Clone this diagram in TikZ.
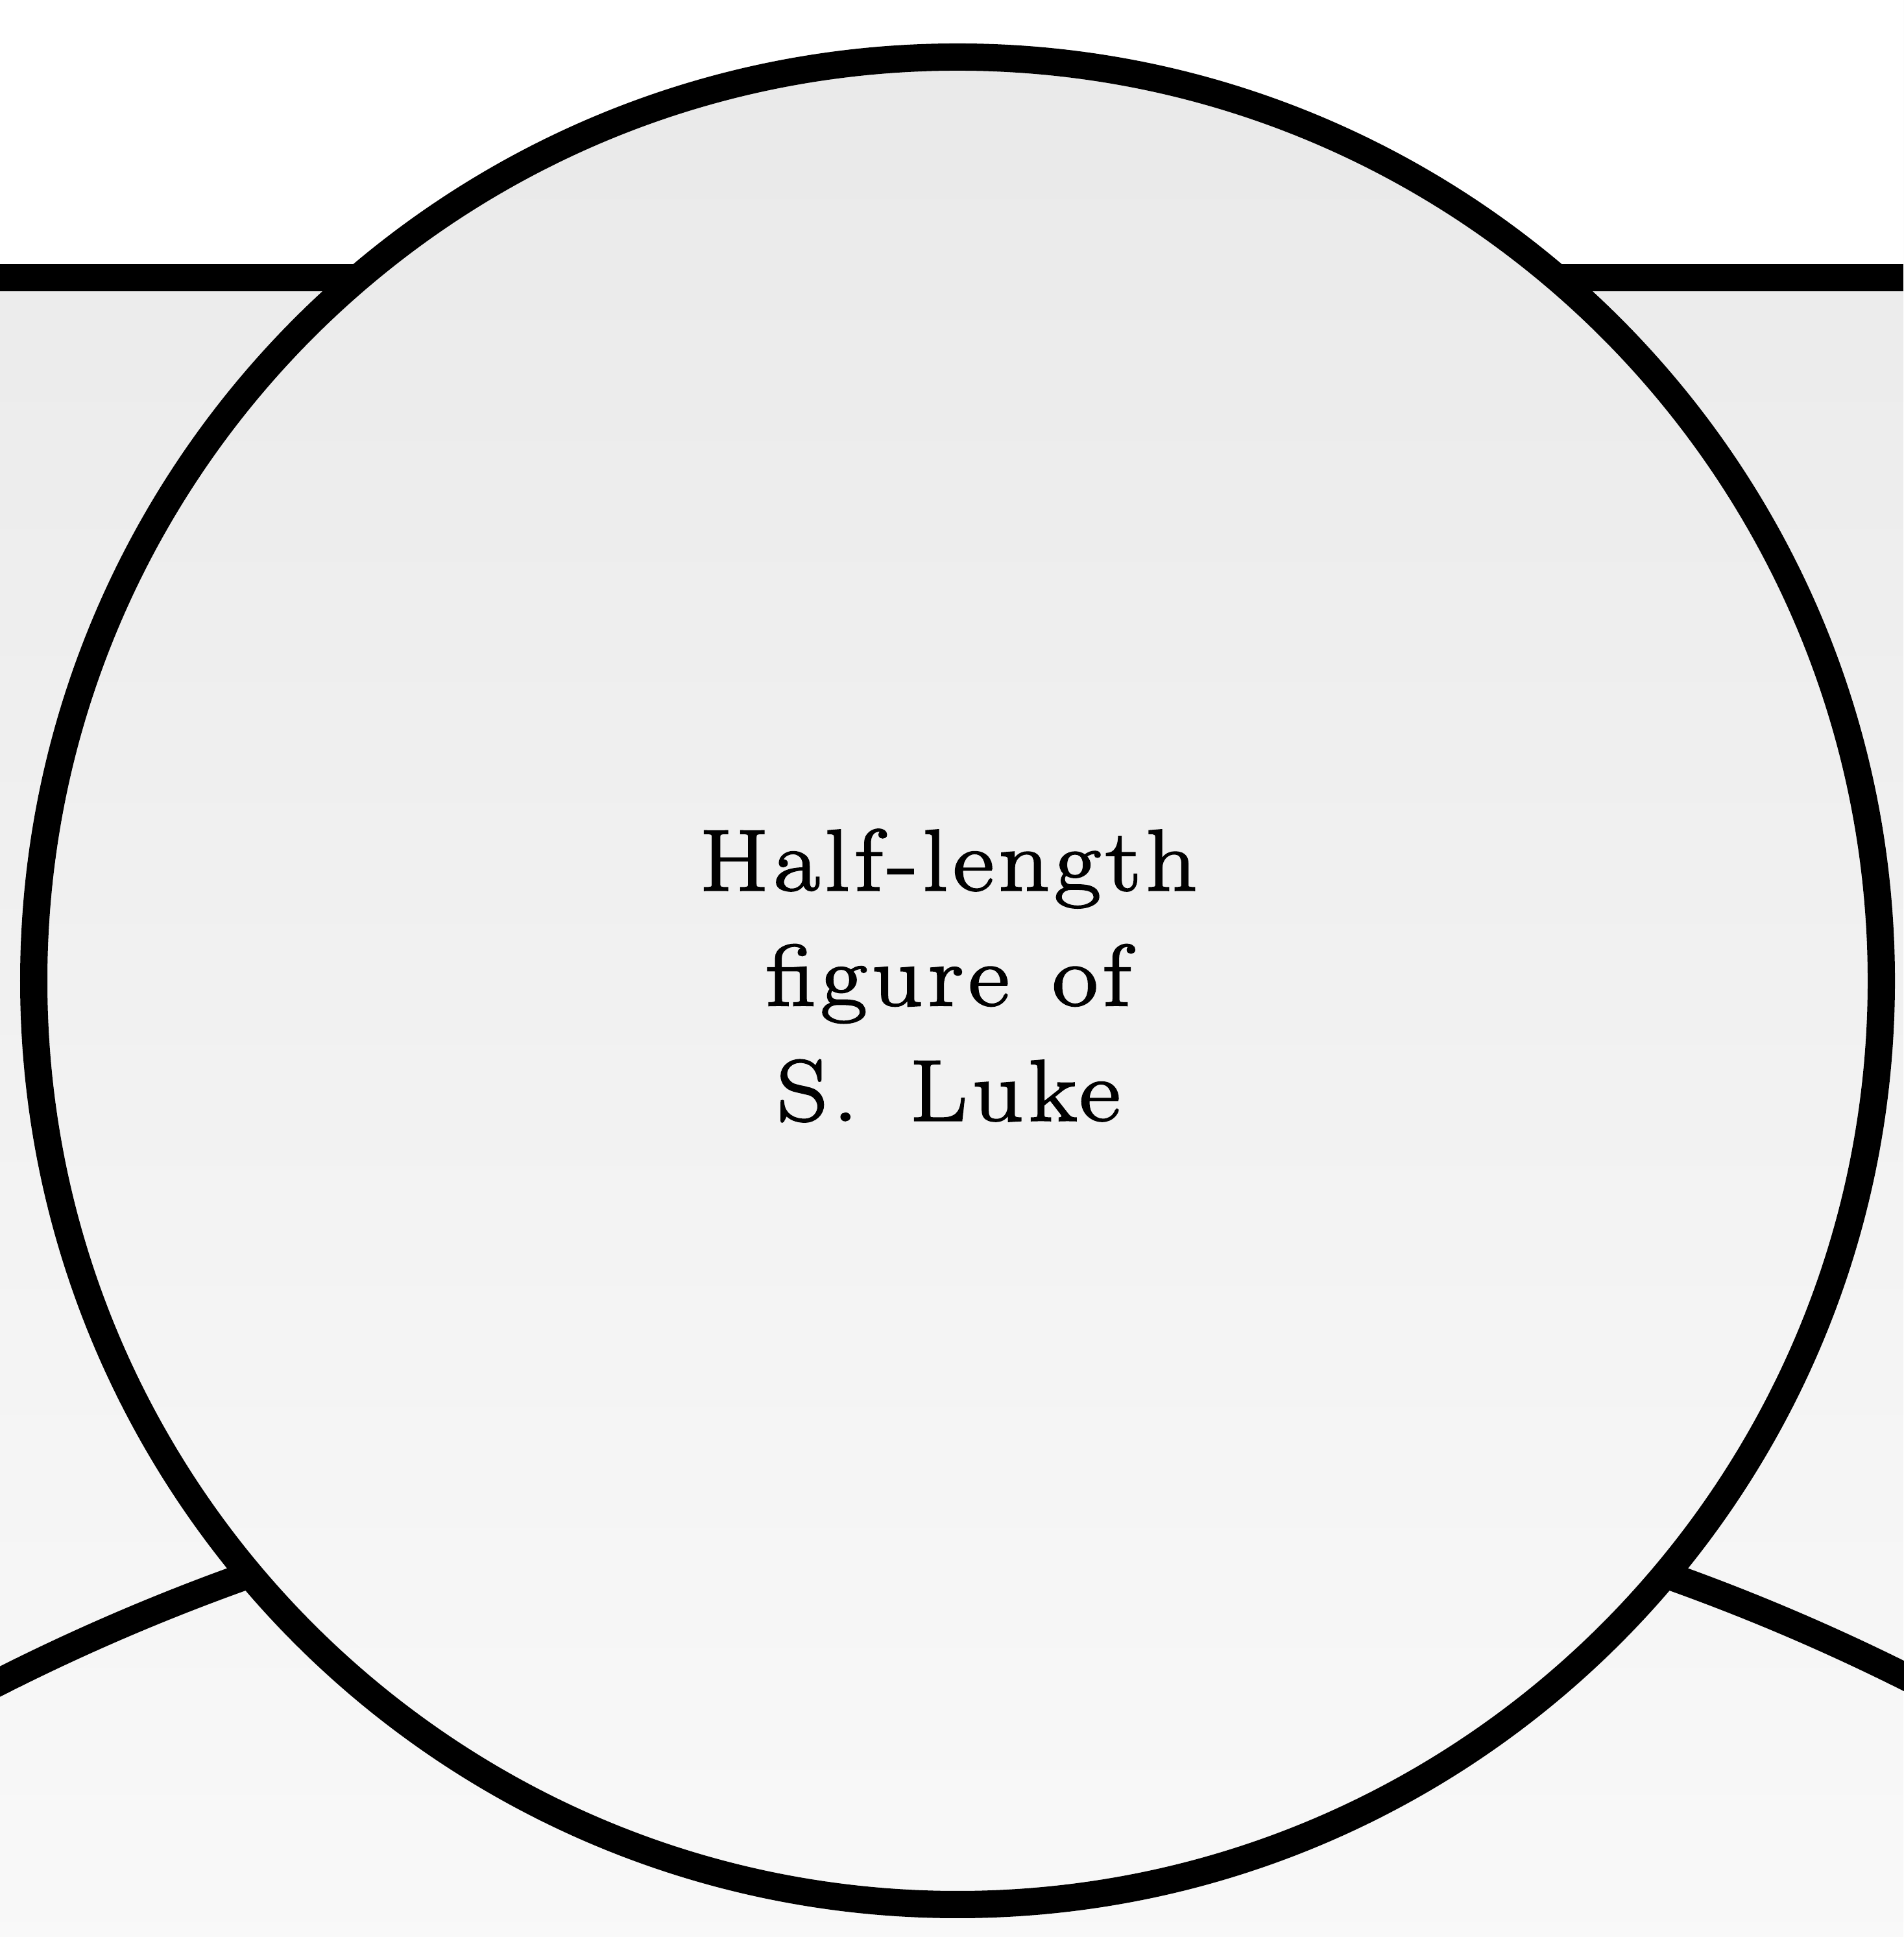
\documentclass[tikz,border=0pt]{standalone}
\usepackage{fontspec}
\usepackage{tikz}
\usetikzlibrary{calc}
\newfontfamily\lukefont{Latin Modern Roman}[FakeStretch=1.15,FakeBold=2.2,LetterSpace=6]
\definecolor{paperhi}{gray}{0.915}
\definecolor{paperlo}{gray}{0.975}

\begin{document}
\begin{tikzpicture}[rim/.style={line width=0.42cm,black},
  caption/.style={align=center,font=\lukefont\fontsize{38}{50.5}\selectfont}]
  \useasboundingbox (0,0) rectangle (29.34,29.86);
  % ---------- paper
  \shade[top color=paperhi,bottom color=paperlo] (0,0) rectangle (29.34,29.86);
  \fill[white] (0,25.58) rectangle (29.34,29.86);
  \coordinate (ctr) at (14.76,14.74);
  \coordinate (bigc) at (14.76,-25.23);
  % ---------- frame lines behind the medallion
  \draw[rim] (0,25.58) -- (29.34,25.58);
  \draw[rim] ($(bigc)+(118:32.69)$) arc (118:62:32.69);
  % ---------- medallion
  \shade[top color=paperhi,bottom color=paperlo] (ctr) circle (14.24);
  \draw[rim] (ctr) circle (14.24);
  \node[caption] (luke) at (14.62,14.82) {Half-length\\figure\hspace{0.5em}of\\S.\hspace{0.6em}Luke};
\end{tikzpicture}
\end{document}
